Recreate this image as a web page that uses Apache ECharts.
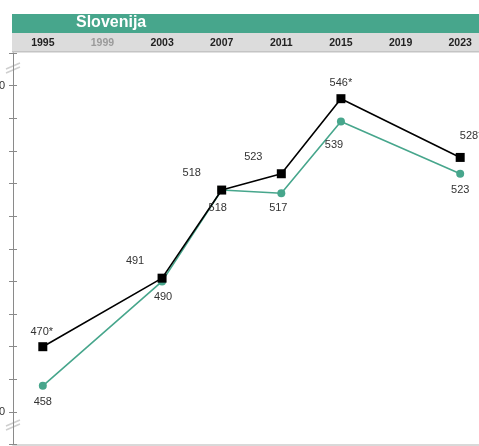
<!DOCTYPE html>
<html>
<head>
<meta charset="utf-8">
<script src="https://cdn.jsdelivr.net/npm/echarts@6/dist/echarts.min.js"></script>
<style>
html, body { margin: 0; padding: 0; background: #fff; }
#chart { width: 479px; height: 446px; }
</style>
</head>
<body>
<div id="chart"></div>
<script>
const years = ['1995', '1999', '2003', '2007', '2011', '2015', '2019', '2023'];
const blackValues = [470, null, 491, 518, 523, 546, null, 528];
const blackLabels = ['470*', '', '491', '518', '523', '546*', '', '528*'];
const tealValues = [458, null, 490, 518, 517, 539, null, 523];
const tealLabels = ['458', '', '490', '518', '517', '539', '', '523'];
const yTickLabels = [450, 550];
const greyYears = ['1999'];

const FONT = '"Liberation Sans", Arial, sans-serif';
const TEAL = '#47a68c';

// where each value label sits relative to its point
const blackOffsets = [[-1, -15], null, [-27, -17], [-30, -17], [-28, -17], [0, -16], null, [11, -21]];
const tealOffsets = [[0, 16], null, [1, 16], [-4, 18], [-3, 15], [-7, 23], null, [0, 16]];

const toData = (values, offsets) => values.map((v, i) => v == null ? null : {
    value: v,
    label: { offset: offsets[i] }
});

// little "//" break marks on the y axis
const breakMark = (y) => ({
    type: 'group',
    z: 100,
    children: [
        { type: 'polygon', shape: { points: [[6, y + 5], [20, y - 1], [20, y + 3], [6, y + 9]] }, style: { fill: '#fff' } },
        { type: 'line', shape: { x1: 6, y1: y + 5, x2: 20, y2: y - 1 }, style: { stroke: '#cfcfcf', lineWidth: 1.5 } },
        { type: 'line', shape: { x1: 6, y1: y + 9, x2: 20, y2: y + 3 }, style: { stroke: '#cfcfcf', lineWidth: 1.5 } }
    ]
});

const labelStyle = (texts) => ({
    show: true,
    position: 'inside',
    color: '#333',
    fontSize: 11,
    fontFamily: FONT,
    formatter: p => texts[p.dataIndex]
});

var myChart = echarts.init(document.getElementById('chart'));
myChart.setOption({
    animation: false,
    grid: { left: 13, right: -11, top: 53, bottom: 1.4, containLabel: false, outerBoundsMode: 'none' },
    graphic: [
        { type: 'rect', shape: { x: 12, y: 14, width: 470, height: 19 }, style: { fill: TEAL }, z: 0 },
        { type: 'rect', shape: { x: 12, y: 33, width: 470, height: 19 }, style: { fill: '#dcdcdc' }, z: 0 },
        { type: 'rect', shape: { x: 12, y: 51, width: 470, height: 1.5 }, style: { fill: '#c4c4c4' }, z: 0 },
        {
            type: 'text', left: 112 - 36, top: 15, z: 10,
            style: { text: 'Slovenija', fill: '#fff', font: 'bold 16px ' + FONT }
        },
        breakMark(64),
        breakMark(421)
    ],
    xAxis: [
        {
            type: 'category',
            data: years,
            position: 'bottom',
            axisLine: { lineStyle: { color: '#d9d9d9', width: 2 } },
            axisTick: { show: false },
            axisLabel: { show: false },
            splitLine: { show: false }
        },
        {
            type: 'category',
            data: years,
            position: 'top',
            axisLine: { show: false },
            axisTick: { show: false },
            splitLine: { show: false },
            axisLabel: {
                margin: 4,
                fontSize: 10.5,
                fontWeight: 'bold',
                fontFamily: FONT,
                color: v => greyYears.includes(v) ? '#9a9a9a' : '#222'
            }
        }
    ],
    yAxis: [
        {
            type: 'value',
            min: 440,
            max: 560,
            interval: 10,
            axisLine: { show: true, lineStyle: { color: '#8a8a8a', width: 1 } },
            axisTick: { show: true, length: 4, lineStyle: { color: '#8a8a8a' } },
            splitLine: { show: false },
            axisLabel: {
                margin: 8,
                fontSize: 11,
                fontFamily: FONT,
                color: '#333',
                formatter: v => yTickLabels.includes(v) ? String(v) : ''
            }
        },
        {
            type: 'value',
            min: 440,
            max: 560,
            interval: 10,
            position: 'left',
            axisLine: { show: false },
            axisTick: { show: true, inside: true, length: 4, lineStyle: { color: '#8a8a8a' } },
            axisLabel: { show: false },
            splitLine: { show: false }
        }
    ],
    series: [
        {
            name: 'teal',
            type: 'line',
            connectNulls: true,
            data: toData(tealValues, tealOffsets),
            symbol: 'circle',
            symbolSize: 8,
            lineStyle: { color: TEAL, width: 1.6 },
            itemStyle: { color: TEAL },
            label: labelStyle(tealLabels)
        },
        {
            name: 'black',
            type: 'line',
            connectNulls: true,
            data: toData(blackValues, blackOffsets),
            symbol: 'rect',
            symbolSize: 9,
            lineStyle: { color: '#000', width: 1.6 },
            itemStyle: { color: '#000' },
            label: labelStyle(blackLabels)
        }
    ]
});
</script>
</body>
</html>
